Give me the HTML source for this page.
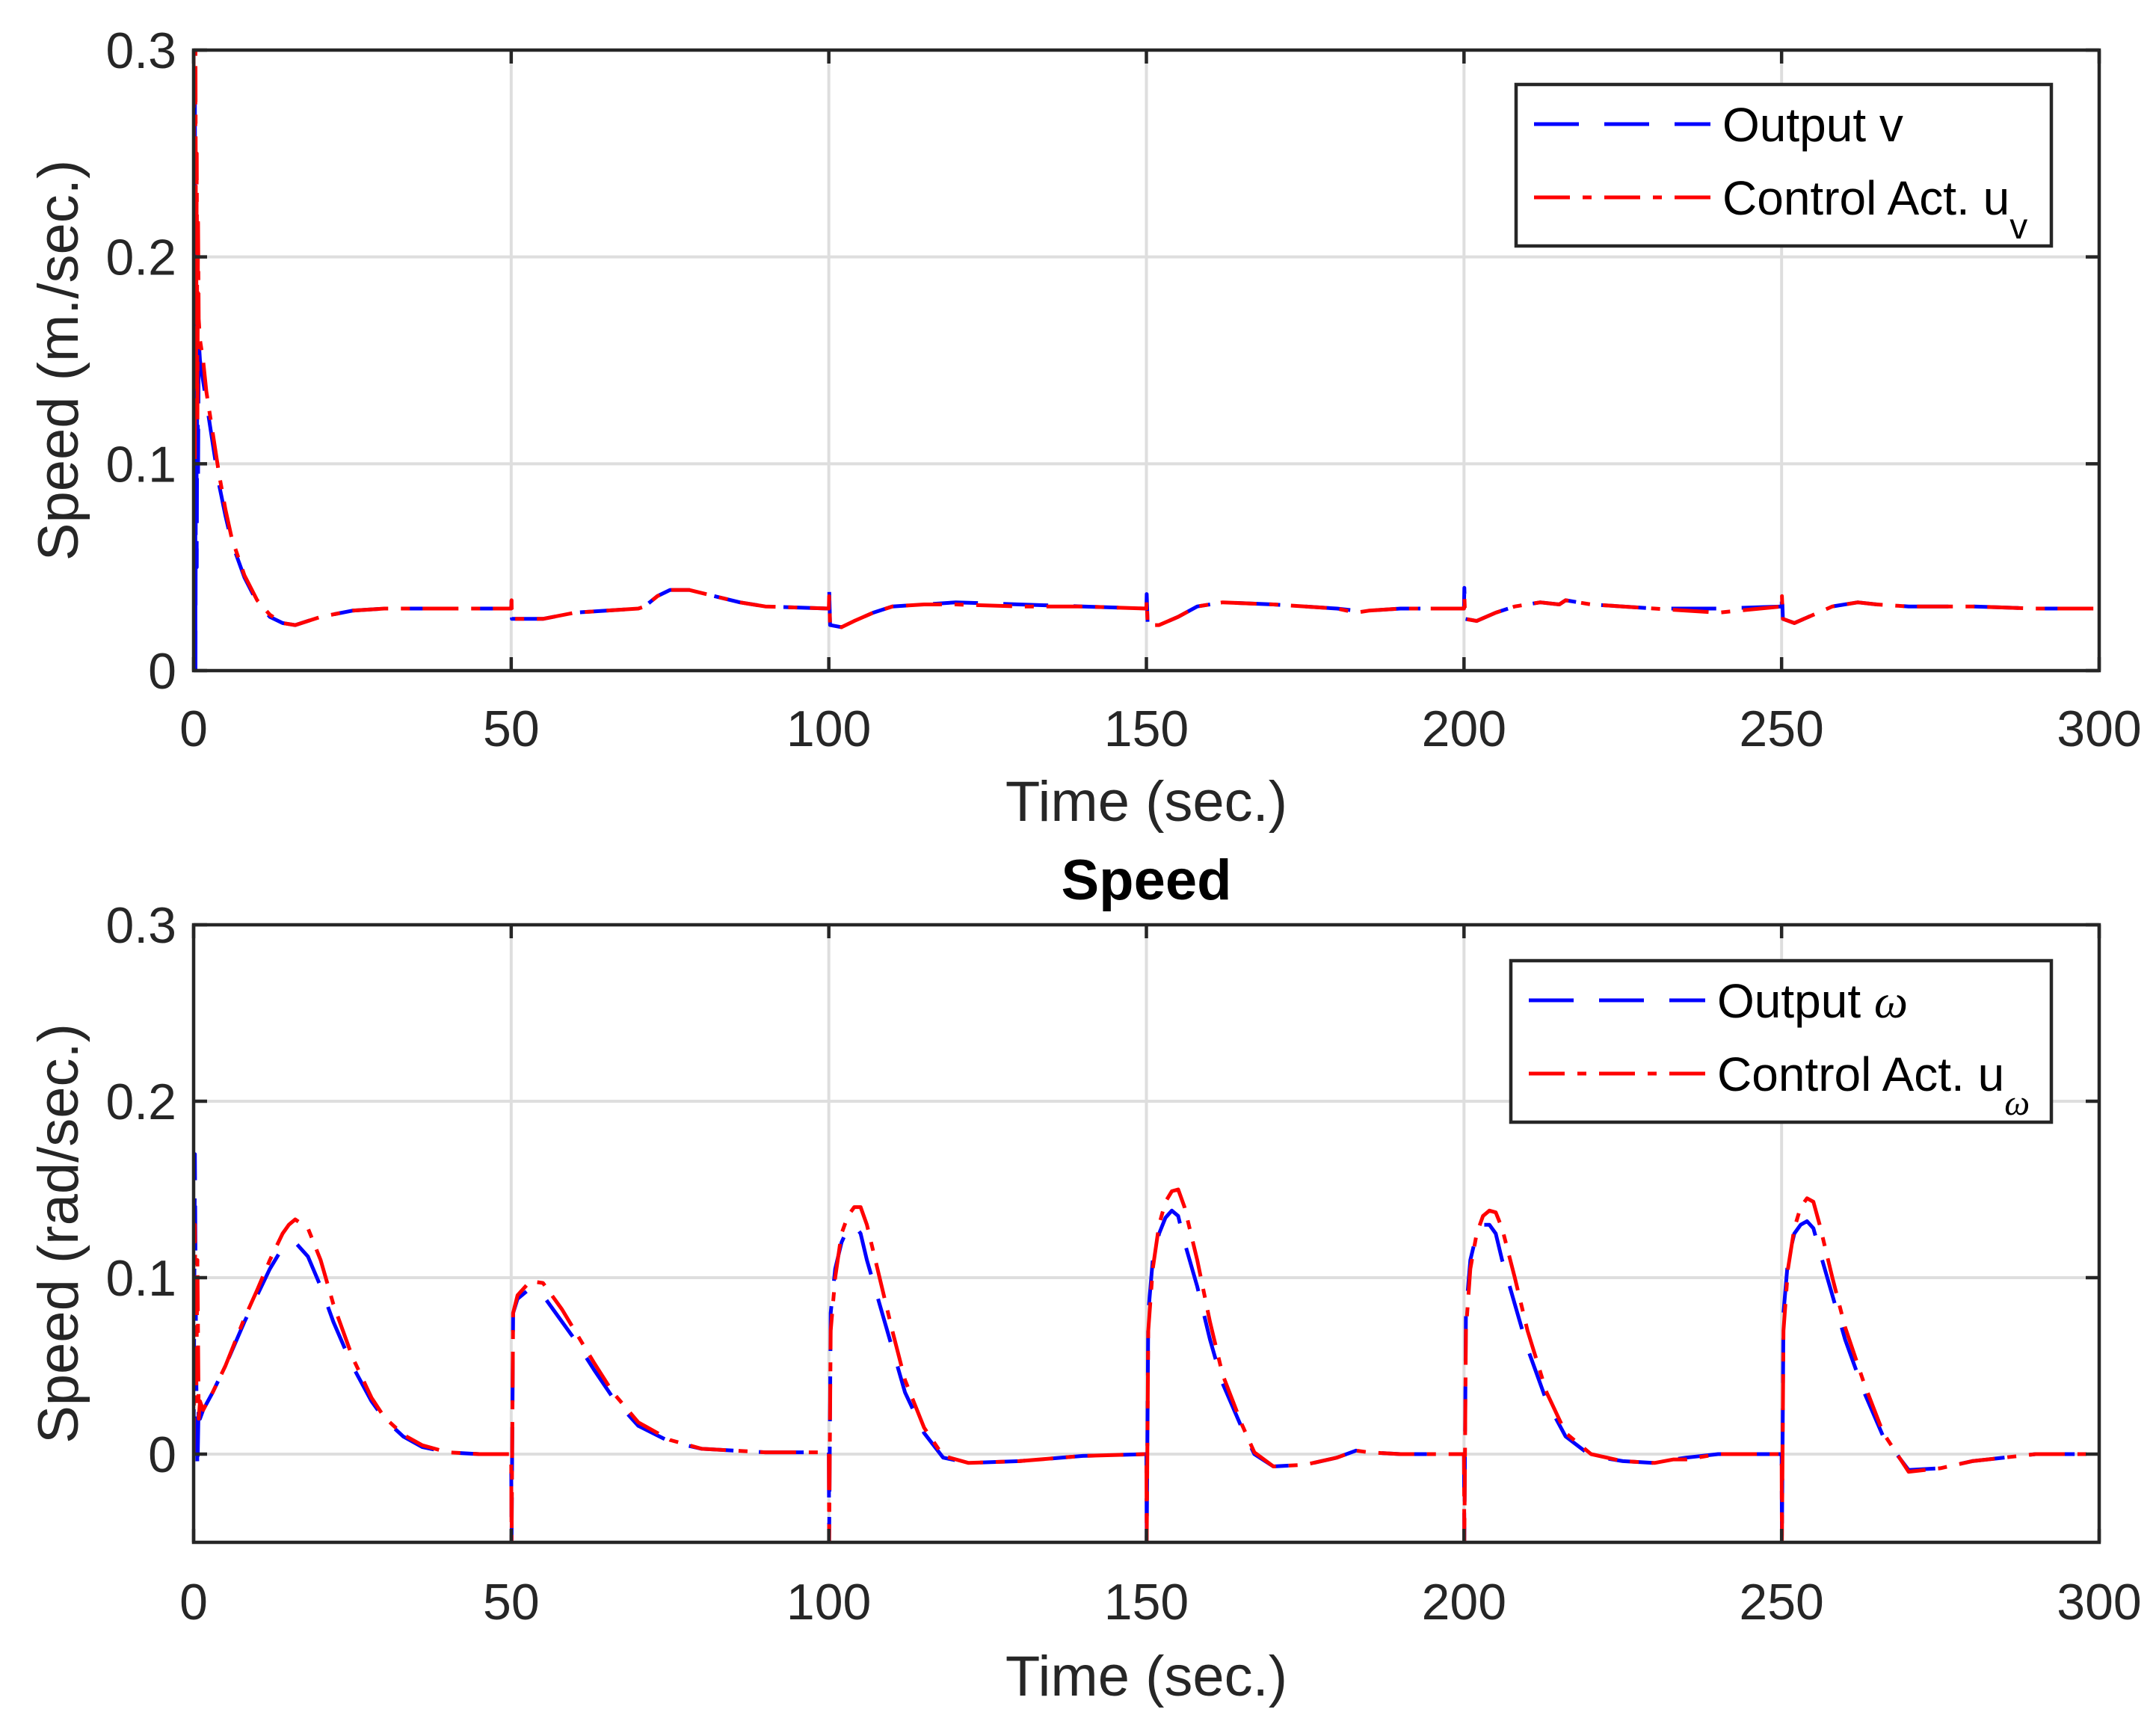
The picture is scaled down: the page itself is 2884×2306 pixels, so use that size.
<!DOCTYPE html>
<html><head><meta charset="utf-8"><style>
html,body{margin:0;padding:0;background:#fff}
svg{display:block}
text{font-family:"Liberation Sans",sans-serif}
</style></head><body>
<svg id="fig" width="2884" height="2306" viewBox="0 0 2884 2306" xmlns="http://www.w3.org/2000/svg">
<rect width="2884" height="2306" fill="#fff"/>
<g id="root"></g>
</svg>
<script>
// ---- data ----
const xTicks = [0,50,100,150,200,250,300];
const yTicksTop = [0,0.1,0.2,0.3];
const yTicksBot = [0,0.1,0.2,0.3];
const tV = [0,0.2,0.3,0.4,0.5,0.6,0.7,0.8,1,1.5,2,3,4,5,6,8,10,12,14,16,20,25,30,50,50.05,50.1,55,60,65,70,71,73,75,78,82,86,90,100,100.05,100.2,102,104,107,110,115,120,130,140,150,150.05,150.2,152,155,158,162,170,180,183,185,190,200,200.05,200.2,202,205,208,212,215,216,220,230,240,250,250.05,250.2,252,255,258,262,265,270,280,290,300];
const vOut = [0,0.29,0,0.2,0.05,0.18,0.09,0.16,0.15,0.14,0.13,0.11,0.09,0.075,0.062,0.045,0.033,0.026,0.023,0.022,0.026,0.029,0.030,0.030,0.036,0.025,0.025,0.028,0.029,0.030,0.031,0.036,0.039,0.039,0.036,0.033,0.031,0.030,0.040,0.022,0.021,0.024,0.028,0.031,0.032,0.033,0.032,0.031,0.030,0.037,0.022,0.022,0.026,0.031,0.033,0.032,0.030,0.029,0.029,0.030,0.030,0.040,0.025,0.024,0.028,0.031,0.033,0.032,0.034,0.032,0.030,0.030,0.031,0.039,0.025,0.023,0.027,0.031,0.033,0.032,0.031,0.031,0.030,0.030];
const vCtl = [0.3,0.1,0.3,0.15,0.25,0.12,0.22,0.17,0.16,0.15,0.135,0.115,0.095,0.078,0.064,0.046,0.034,0.027,0.023,0.022,0.026,0.029,0.030,0.030,0.034,0.025,0.025,0.028,0.029,0.030,0.031,0.036,0.039,0.039,0.036,0.033,0.031,0.030,0.036,0.022,0.021,0.024,0.028,0.031,0.032,0.032,0.031,0.031,0.030,0.034,0.022,0.022,0.026,0.031,0.033,0.032,0.030,0.028,0.029,0.030,0.030,0.036,0.025,0.024,0.028,0.031,0.033,0.032,0.034,0.032,0.030,0.028,0.031,0.036,0.025,0.023,0.027,0.031,0.033,0.032,0.031,0.031,0.030,0.030];
const tW = [0,0.2,0.4,0.6,0.8,1,1.5,3,5,8,10,12,14,15,16,18,20,22,25,28,30,33,36,40,45,50,50.05,50.3,51,53,55,58,60,63,66,70,75,80,90,100,100.05,100.3,101,102,103,104,105,106,108,110,112,115,118,122,130,140,150,150.05,150.3,151,152,153,154,155,156,158,160,162,165,167,170,175,180,183,185,190,200,200.05,200.3,201,202,203,204,205,206,208,210,213,216,220,225,230,233,235,240,250,250.05,250.3,251,252,253,254,255,256,258,260,263,266,270,275,280,290,300];
const wOut = [0,0.17,0.05,-0.01,0.03,0.02,0.025,0.035,0.05,0.075,0.09,0.105,0.117,0.12,0.12,0.112,0.095,0.075,0.05,0.03,0.02,0.01,0.004,0.001,0,0,-0.05,0.08,0.088,0.094,0.09,0.075,0.065,0.048,0.032,0.016,0.007,0.003,0.001,0.001,-0.05,0.08,0.105,0.12,0.128,0.13,0.125,0.11,0.085,0.06,0.035,0.012,-0.002,-0.005,-0.004,-0.001,0,-0.05,0.08,0.11,0.125,0.134,0.138,0.135,0.12,0.095,0.065,0.04,0.015,0,-0.007,-0.006,-0.002,0.002,0.001,0,0,-0.05,0.08,0.11,0.125,0.13,0.13,0.125,0.11,0.085,0.06,0.03,0.01,-0.001,-0.004,-0.005,-0.003,-0.002,0,0,-0.05,0.08,0.11,0.125,0.13,0.132,0.128,0.115,0.09,0.065,0.035,0.01,-0.009,-0.008,-0.004,0,0,0];
const wCtl = [0,0.13,0.03,0.11,0.02,0.03,0.025,0.035,0.05,0.077,0.093,0.11,0.125,0.13,0.133,0.128,0.11,0.085,0.055,0.032,0.021,0.011,0.005,0.001,0,0,-0.05,0.08,0.09,0.098,0.097,0.082,0.07,0.052,0.035,0.018,0.008,0.003,0.001,0.001,-0.05,0.07,0.1,0.125,0.135,0.14,0.14,0.13,0.1,0.07,0.042,0.015,-0.001,-0.005,-0.004,-0.001,0,-0.05,0.07,0.105,0.13,0.143,0.149,0.15,0.14,0.11,0.075,0.045,0.017,0.001,-0.007,-0.006,-0.002,0.002,0.001,0,0,-0.05,0.07,0.105,0.125,0.135,0.138,0.137,0.128,0.1,0.07,0.035,0.012,0,-0.004,-0.005,-0.003,-0.003,0,0,-0.05,0.07,0.105,0.128,0.14,0.145,0.143,0.13,0.1,0.072,0.04,0.012,-0.01,-0.008,-0.004,0,0,0];

const NS = "http://www.w3.org/2000/svg";
const root = document.getElementById('root');
function mk(tag, attrs, parent, txt){
  const e = document.createElementNS(NS, tag);
  for (const k in attrs) e.setAttribute(k, attrs[k]);
  if (txt !== undefined) e.textContent = txt;
  (parent||root).appendChild(e);
  return e;
}
const L = 259, R = 2808;
function drawAxes(cfg){
  const {top, bot, ymin, ymax, yTicks, ylabel, tickY, xlabY, name, tV, sOut, sCtl, leg} = cfg;
  const g = mk('g', {});
  
  
  const xs = v => L + (v - 0) / 300 * (R - L);
  const ys = v => bot - (v - ymin) / (ymax - ymin) * (bot - top);
  const grid = mk('g', {}, g);
  
  
  xTicks.forEach(t => { if (t > 0 && t < 300) mk('line', {x1:xs(t), x2:xs(t), y1:top, y2:bot, stroke:'#dedede', 'stroke-width':4}, grid); });
  yTicks.forEach(t => { if (ys(t) > top+1 && ys(t) < bot-1) mk('line', {x1:L, x2:R, y1:ys(t), y2:ys(t), stroke:'#dedede', 'stroke-width':4}, grid); });
  const cid = name + '-clip';
  const cp = mk('clipPath', {id:cid}, g);
  mk('rect', {x:L, y:top, width:R-L, height:bot-top}, cp);
  const pts = s => s.map((v,i) => xs(tV[i]).toFixed(1) + ',' + ys(v).toFixed(1)).join(' ');
  const l1 = mk('polyline', {points:pts(sOut), fill:'none', stroke:'#0000ff', 'stroke-width':5, 'stroke-dasharray':'60 34', 'clip-path':'url(#'+cid+')', 'stroke-linejoin':'round'}, g);
  
  
  const l2 = mk('polyline', {points:pts(sCtl), fill:'none', stroke:'#ff0000', 'stroke-width':5, 'stroke-dasharray':'48 17 12 17', 'clip-path':'url(#'+cid+')', 'stroke-linejoin':'round'}, g);
  
  
  const box = mk('rect', {x:L, y:top, width:R-L, height:bot-top, fill:'none', stroke:'#262626', 'stroke-width':4.5}, g);
  
  
  xTicks.forEach(t => {
    mk('line', {x1:xs(t), x2:xs(t), y1:bot, y2:bot-18, stroke:'#262626', 'stroke-width':4.5}, g);
    mk('line', {x1:xs(t), x2:xs(t), y1:top, y2:top+18, stroke:'#262626', 'stroke-width':4.5}, g);
    const tx = mk('text', {x:xs(t), y:tickY, 'font-size':68, fill:'#262626', 'text-anchor':'middle'}, g, String(t));
    
    
  });
  yTicks.forEach(t => {
    mk('line', {x1:L, x2:L+18, y1:ys(t), y2:ys(t), stroke:'#262626', 'stroke-width':4.5}, g);
    mk('line', {x1:R, x2:R-18, y1:ys(t), y2:ys(t), stroke:'#262626', 'stroke-width':4.5}, g);
    const ty = mk('text', {x:236, y:ys(t)+24, 'font-size':68, fill:'#262626', 'text-anchor':'end'}, g, String(t));
    
    
  });
  const xl = mk('text', {x:(L+R)/2, y:xlabY, 'font-size':76, fill:'#262626', 'text-anchor':'middle'}, g, 'Time (sec.)');
  
  
  const cy = (top+bot)/2;
  const yl = mk('text', {x:0, y:0, 'font-size':76, fill:'#262626', 'text-anchor':'middle', transform:'translate(104,'+cy+') rotate(-90)'}, g, ylabel);
  
  
  const lg = mk('g', {}, g);
  
  
  mk('rect', {x:leg.x, y:leg.y, width:leg.w, height:216, fill:'#fff', stroke:'#262626', 'stroke-width':4.5}, lg);
  const r1 = leg.y + 53, r2 = leg.y + 151;
  mk('line', {x1:leg.x+24, x2:leg.x+260, y1:r1, y2:r1, stroke:'#0000ff', 'stroke-width':5, 'stroke-dasharray':'60 34'}, lg);
  mk('line', {x1:leg.x+24, x2:leg.x+260, y1:r2, y2:r2, stroke:'#ff0000', 'stroke-width':5, 'stroke-dasharray':'48 17 12 17'}, lg);
  const e1 = mk('text', {x:leg.x+276, y:r1+23, 'font-size':64, fill:'#000'}, lg);
  
  
  mk('tspan', {}, e1, 'Output ');
  mk('tspan', {'font-style':leg.italic?'italic':'normal', 'font-family':leg.italic?'"Liberation Serif",serif':'"Liberation Sans",sans-serif'}, e1, leg.sym);
  const e2 = mk('text', {x:leg.x+276, y:r2+23, 'font-size':64, fill:'#000'}, lg);
  
  
  mk('tspan', {}, e2, 'Control Act. u');
  mk('tspan', {dy:32, 'font-size':48, 'font-style':leg.italic?'italic':'normal', 'font-family':leg.italic?'"Liberation Serif",serif':'"Liberation Sans",sans-serif'}, e2, leg.sym);
}
drawAxes({top:67, bot:897, ymin:0, ymax:0.3, yTicks:yTicksTop, ylabel:'Speed (m./sec.)', tickY:998, xlabY:1098, name:'linear-speed-axes', tV:tV, sOut:vOut, sCtl:vCtl, leg:{x:2028, y:113, w:716, sym:'v', italic:false}});
drawAxes({top:1237, bot:2063, ymin:-0.05, ymax:0.3, yTicks:yTicksBot, ylabel:'Speed (rad/sec.)', tickY:2166, xlabY:2268, name:'angular-speed-axes', tV:tW, sOut:wOut, sCtl:wCtl, leg:{x:2021, y:1285, w:723, sym:'ω', italic:true}});
const title = mk('text', {x:(L+R)/2, y:1203, 'font-size':76, 'font-weight':'bold', fill:'#000', 'text-anchor':'middle'}, root, 'Speed');


</script>
</body></html>
